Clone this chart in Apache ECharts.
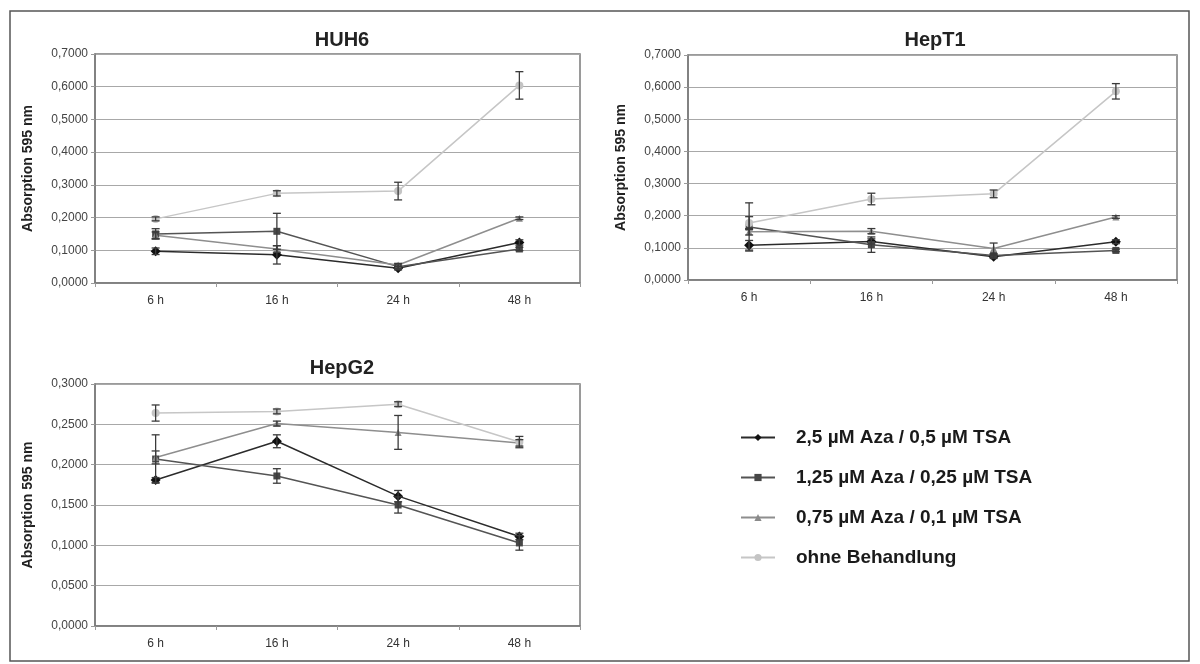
<!DOCTYPE html>
<html>
<head>
<meta charset="utf-8">
<title>Absorption 595 nm – HUH6, HepT1, HepG2</title>
<script src="https://cdn.jsdelivr.net/npm/echarts@6/dist/echarts.min.js"></script>
<style>
  html, body { margin: 0; padding: 0; background: #fff; }
  #chart { width: 1200px; height: 664px; }
</style>
</head>
<body>
<div id="chart"></div>
<script>
// Time points and treatment groups
const categories = ['6 h', '16 h', '24 h', '48 h'];
const seriesNames = [
  '2,5 µM Aza / 0,5 µM TSA',
  '1,25 µM Aza / 0,25 µM TSA',
  '0,75 µM Aza / 0,1 µM TSA',
  'ohne Behandlung'
];
const panelTitles = ['HUH6', 'HepT1', 'HepG2'];

// HUH6: mean absorption and standard deviation
const huh6Aza25 = [0.097, 0.086, 0.045, 0.124];
const huh6Aza125 = [0.150, 0.158, 0.050, 0.104];
const huh6Aza075 = [0.146, 0.104, 0.055, 0.198];
const huh6Control = [0.196, 0.274, 0.281, 0.604];
const huh6Aza25Err = [0.010, 0.028, 0.005, 0.008];
const huh6Aza125Err = [0.016, 0.055, 0.005, 0.005];
const huh6Aza075Err = [0.010, 0.010, 0.005, 0.004];
const huh6ControlErr = [0.006, 0.008, 0.027, 0.042];

// HepT1
const hept1Aza25 = [0.108, 0.120, 0.072, 0.119];
const hept1Aza125 = [0.165, 0.110, 0.076, 0.092];
const hept1Aza075 = [0.150, 0.152, 0.098, 0.196];
const hept1Control = [0.177, 0.252, 0.268, 0.587];
const hept1Aza25Err = [0.015, 0.008, 0.005, 0.006];
const hept1Aza125Err = [0.075, 0.024, 0.005, 0.004];
const hept1Aza075Err = [0.010, 0.008, 0.017, 0.004];
const hept1ControlErr = [0.020, 0.018, 0.012, 0.024];

// HepG2
const hepg2Aza25 = [0.181, 0.229, 0.161, 0.111];
const hepg2Aza125 = [0.207, 0.186, 0.150, 0.103];
const hepg2Aza075 = [0.209, 0.251, 0.240, 0.227];
const hepg2Control = [0.264, 0.266, 0.275, 0.228];
const hepg2Aza25Err = [0.003, 0.008, 0.007, 0.004];
const hepg2Aza125Err = [0.030, 0.009, 0.010, 0.009];
const hepg2Aza075Err = [0.008, 0.003, 0.021, 0.004];
const hepg2ControlErr = [0.010, 0.003, 0.003, 0.007];

// Y axis ranges per panel
const yMax = [0.7, 0.7, 0.3];
const yStep = [0.1, 0.1, 0.05];

const panels = [
  { means: [huh6Aza25, huh6Aza125, huh6Aza075, huh6Control],
    errs: [huh6Aza25Err, huh6Aza125Err, huh6Aza075Err, huh6ControlErr] },
  { means: [hept1Aza25, hept1Aza125, hept1Aza075, hept1Control],
    errs: [hept1Aza25Err, hept1Aza125Err, hept1Aza075Err, hept1ControlErr] },
  { means: [hepg2Aza25, hepg2Aza125, hepg2Aza075, hepg2Control],
    errs: [hepg2Aza25Err, hepg2Aza125Err, hepg2Aza075Err, hepg2ControlErr] }
];

// Styling per treatment group
const styles = [
  { line: '#2b2b2b', mark: '#111111', symbol: 'diamond', size: 10 },
  { line: '#545454', mark: '#474747', symbol: 'rect', size: 7 },
  { line: '#8e8e8e', mark: '#8a8a8a', symbol: 'triangle', size: 7 },
  { line: '#c6c6c6', mark: '#c4c4c4', symbol: 'circle', size: 8 }
];

const grids = [
  { left: 95, top: 54, width: 485, height: 229 },
  { left: 688, top: 55, width: 489, height: 225 },
  { left: 95, top: 384, width: 485, height: 242 }
];
const titleCenters = [[337, 25], [930, 25], [337, 353]];

const font = 'Liberation Sans, Arial, sans-serif';
const fmt = v => v.toFixed(4).replace('.', ',');

const xAxes = grids.map((g, i) => ({
  type: 'category',
  gridIndex: i,
  data: categories,
  boundaryGap: true,
  axisLine: { show: true, lineStyle: { color: '#7a7a7a', width: 1.5 } },
  axisTick: { show: true, length: 4, inside: false, lineStyle: { color: '#9a9a9a' } },
  axisLabel: { color: '#333', fontSize: 12, fontFamily: font, margin: 12 },
  splitLine: { show: false }
}));

const yAxes = grids.map((g, i) => ({
  type: 'value',
  gridIndex: i,
  min: 0,
  max: yMax[i],
  interval: yStep[i],
  name: 'Absorption 595 nm',
  nameLocation: 'middle',
  nameGap: 60,
  nameTextStyle: { color: '#222', fontSize: 14, fontWeight: 'bold', fontFamily: font },
  axisLine: { show: true, lineStyle: { color: '#7a7a7a', width: 1.5 } },
  axisTick: { show: true, length: 4, lineStyle: { color: '#9a9a9a' } },
  axisLabel: { color: '#444', fontSize: 12, fontFamily: font, margin: 7, formatter: fmt },
  splitLine: { show: true, lineStyle: { color: '#a8a8a8', width: 1.2 } }
}));

const series = [];
panels.forEach((p, gi) => {
  p.means.forEach((vals, si) => {
    const st = styles[si];
    series.push({
      name: seriesNames[si],
      type: 'line',
      xAxisIndex: gi,
      yAxisIndex: gi,
      data: vals,
      symbol: st.symbol,
      symbolSize: st.size,
      showSymbol: true,
      lineStyle: { color: st.line, width: 1.5 },
      itemStyle: { color: st.mark, borderWidth: 0 },
      z: 3,
      animation: false
    });
  });
  // Error bars (mean ± SD) for every group in this panel
  p.means.forEach((vals, si) => {
    series.push({
      type: 'custom',
      xAxisIndex: gi,
      yAxisIndex: gi,
      data: vals.map((m, k) => [k, m, p.errs[si][k]]),
      encode: { x: 0, y: 1 },
      silent: true,
      z: 4,
      animation: false,
      renderItem: (params, api) => {
        const x = api.value(0), m = api.value(1), e = api.value(2);
        const hi = api.coord([x, m + e]);
        const lo = api.coord([x, m - e]);
        const cap = 4;
        const style = { stroke: '#3a3a3a', lineWidth: 1.3 };
        return {
          type: 'group',
          children: [
            { type: 'line', shape: { x1: hi[0], y1: hi[1], x2: lo[0], y2: lo[1] }, style },
            { type: 'line', shape: { x1: hi[0] - cap, y1: hi[1], x2: hi[0] + cap, y2: hi[1] }, style },
            { type: 'line', shape: { x1: lo[0] - cap, y1: lo[1], x2: lo[0] + cap, y2: lo[1] }, style }
          ]
        };
      }
    });
  });
});

const option = {
  backgroundColor: '#ffffff',
  animation: false,
  title: panelTitles.map((t, i) => ({
    text: t,
    left: titleCenters[i][0],
    top: titleCenters[i][1],
    textAlign: 'center',
    textStyle: { fontSize: 20, fontWeight: 'bold', color: '#222', fontFamily: font }
  })),
  grid: grids.map(g => Object.assign({ show: true, borderColor: '#7a7a7a', borderWidth: 1.5, backgroundColor: 'transparent' }, g)),
  xAxis: xAxes,
  yAxis: yAxes,
  legend: {
    data: seriesNames,
    orient: 'vertical',
    left: 735,
    top: 423,
    itemWidth: 34,
    itemHeight: 9,
    itemGap: 21,
    textStyle: { fontSize: 19, fontWeight: 'bold', color: '#1a1a1a', fontFamily: font, padding: [0, 0, 0, 16] }
  },
  graphic: [{
    type: 'rect',
    shape: { x: 10, y: 11, width: 1179, height: 650 },
    style: { fill: 'none', stroke: '#555', lineWidth: 1.5 },
    silent: true
  }],
  series
};

const chart = echarts.init(document.getElementById('chart'), null, { renderer: 'canvas' });
chart.setOption(option);
</script>
</body>
</html>
